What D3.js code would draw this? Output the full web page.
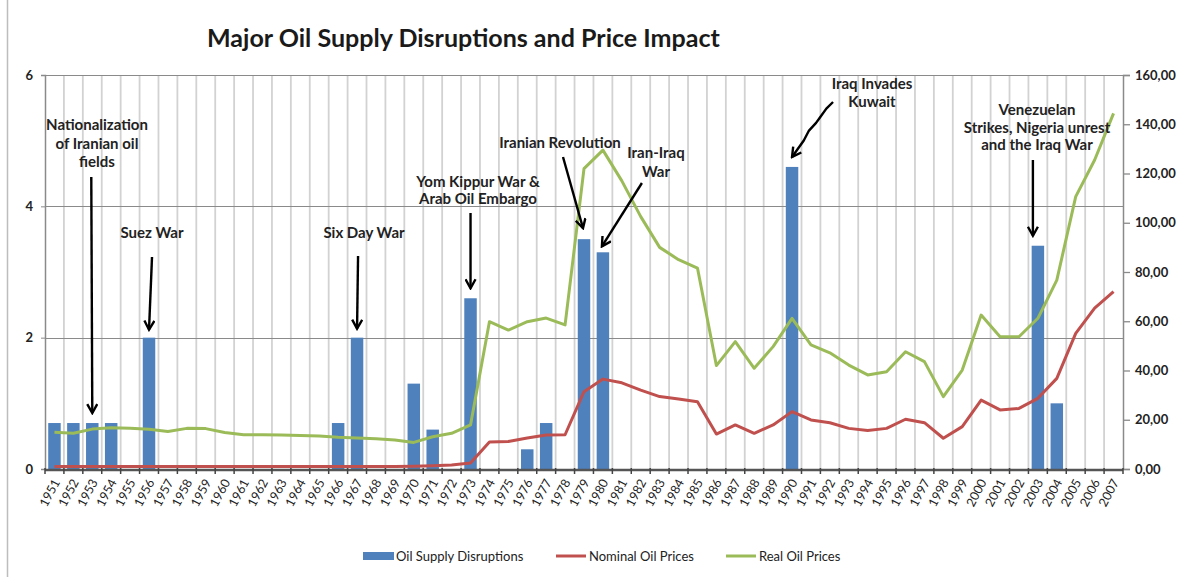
<!DOCTYPE html>
<html>
<head>
<meta charset="utf-8">
<script src="https://cdn.jsdelivr.net/npm/d3@7"></script>
<style>
  html, body { margin: 0; padding: 0; background: #fff; }
  svg { display: block; font-family: Lato, "Open Sans", sans-serif; }
</style>
</head>
<body>
<svg id="chart" width="1192" height="577"></svg>
<script>
// ---------------- data ----------------
const years = ["1951","1952","1953","1954","1955","1956","1957","1958","1959","1960",
  "1961","1962","1963","1964","1965","1966","1967","1968","1969","1970",
  "1971","1972","1973","1974","1975","1976","1977","1978","1979","1980",
  "1981","1982","1983","1984","1985","1986","1987","1988","1989","1990",
  "1991","1992","1993","1994","1995","1996","1997","1998","1999","2000",
  "2001","2002","2003","2004","2005","2006","2007"];

const disruptions = [0.7,0.7,0.7,0.7,0,2.0,0,0,0,0,
  0,0,0,0,0,0.7,2.0,0,0,1.3,
  0.6,0,2.6,0,0,0.3,0.7,0,3.5,3.3,
  0,0,0,0,0,0,0,0,0,4.6,
  0,0,0,0,0,0,0,0,0,0,
  0,0,3.4,1.0,0,0,0];

const nominalPrices = [1.0,1.0,1.0,1.0,1.0,1.0,1.0,1.0,1.0,1.0,
  1.0,1.0,1.0,1.0,1.0,1.0,1.0,1.0,1.0,1.1,
  1.3,1.6,2.4,11.0,11.2,12.6,13.8,13.9,31.4,36.5,
  35.0,32.0,29.4,28.4,27.3,14.2,17.9,14.5,17.9,23.3,
  19.9,18.8,16.5,15.6,16.5,20.2,18.8,12.5,17.2,28.0,
  24.0,24.6,28.7,36.8,55.1,65.3,72.0];

const realPrices = [14.9,14.5,16.2,16.8,16.5,16.1,15.2,16.5,16.4,14.8,
  13.9,13.9,13.8,13.6,13.4,12.9,12.6,12.3,11.8,10.8,
  13.1,14.5,17.9,59.8,56.4,59.8,61.3,58.5,122.0,129.5,
  117.0,102.5,90.0,85.0,81.6,42.0,51.7,40.9,49.7,61.2,
  50.4,47.2,42.2,38.2,39.5,47.6,43.6,29.4,40.2,62.5,
  53.7,53.7,61.2,76.7,110.6,125.5,144.4];

const leftTicks = [0, 2, 4, 6];
const rightTicks = [0, 20, 40, 60, 80, 100, 120, 140, 160];

const seriesNames = ["Oil Supply Disruptions", "Nominal Oil Prices", "Real Oil Prices"];

const events = [
  { year: "1953", lines: ["Nationalization", "of Iranian oil", "fields"] },
  { year: "1956", lines: ["Suez War"] },
  { year: "1967", lines: ["Six Day War"] },
  { year: "1973", lines: ["Yom Kippur War &", "Arab Oil Embargo"] },
  { year: "1979", lines: ["Iranian Revolution"] },
  { year: "1980", lines: ["Iran-Iraq", "War"] },
  { year: "1990", lines: ["Iraq Invades", "Kuwait"] },
  { year: "2003", lines: ["Venezuelan", "Strikes, Nigeria unrest", "and the Iraq War"] }
];

// ---------------- layout ----------------
const colors = { bar: "#4F81BD", nominal: "#C0504D", real: "#9BBB59" };
const plot = { left: 45, right: 1123, top: 75, bottom: 469 };

const svg = d3.select("#chart");

const x = d3.scaleBand().domain(years).range([plot.left, plot.right])
  .paddingInner(0.34).paddingOuter(0.17);
const yL = d3.scaleLinear().domain([0, 6]).range([plot.bottom, plot.top]);
const yR = d3.scaleLinear().domain([0, 160]).range([plot.bottom, plot.top]);
const cx = d => x(d) + x.bandwidth() / 2;
const gap = (x.step() - x.bandwidth()) / 2;

// frame line on left
svg.append("line").attr("x1", 7.5).attr("x2", 7.5).attr("y1", 0).attr("y2", 577)
  .attr("stroke", "#bdbdbd").attr("stroke-width", 1.5);

// title
svg.append("text").attr("x", 207).attr("y", 47)
  .attr("font-size", 22).attr("font-weight", "bold").attr("fill", "#1a1a1a")
  .text("Major Oil Supply Disruptions and Price Impact")
  .each(function () {
    const w = this.getComputedTextLength();
    const target = 513;
    d3.select(this).attr("font-size", 22 * target / w);
  });

// vertical gridlines at category boundaries
const bounds = years.map(d => x(d) - gap).slice(1);
svg.append("g").selectAll("line").data(bounds).join("line")
  .attr("x1", d => d).attr("x2", d => d)
  .attr("y1", plot.top).attr("y2", plot.bottom)
  .attr("stroke", "#d2d2d2").attr("stroke-width", 1.8);

// horizontal gridlines
svg.append("g").selectAll("line").data(leftTicks.filter(d => d > 0)).join("line")
  .attr("x1", plot.left).attr("x2", plot.right)
  .attr("y1", d => Math.round(yL(d)) + 0.5).attr("y2", d => Math.round(yL(d)) + 0.5)
  .attr("stroke", "#8a8a8a").attr("stroke-width", 1.2);

// left axis
const gL = svg.append("g").attr("transform", `translate(${plot.left},0)`)
  .call(d3.axisLeft(yL).tickValues(leftTicks).tickSize(4).tickPadding(8).tickFormat(d3.format("d")));
gL.select(".domain").attr("stroke", "#8a8a8a").attr("stroke-width", 1.5);
gL.selectAll(".tick line").attr("stroke", "#8a8a8a");
gL.selectAll("text").attr("font-size", 13).attr("font-weight", "bold").attr("fill", "#222")
  .attr("font-family", "Lato, sans-serif");

// right axis
const gR = svg.append("g").attr("transform", `translate(${plot.right},0)`)
  .call(d3.axisRight(yR).tickValues(rightTicks).tickSize(7).tickPadding(5)
    .tickFormat(d => d3.format(".2f")(d).replace(".", ",")));
gR.select(".domain").attr("stroke", "#8a8a8a").attr("stroke-width", 1.5);
gR.selectAll(".tick line").attr("stroke", "#8a8a8a").attr("stroke-width", 1.3);
gR.selectAll("text").attr("font-size", 13).attr("font-weight", "bold").attr("fill", "#222")
  .attr("font-family", "Lato, sans-serif");

// bars
svg.append("g").selectAll("rect").data(years.map((y, i) => ({ y, v: disruptions[i] })).filter(d => d.v > 0))
  .join("rect")
  .attr("x", d => x(d.y)).attr("width", x.bandwidth())
  .attr("y", d => yL(d.v)).attr("height", d => yL(0) - yL(d.v))
  .attr("fill", colors.bar);

// lines
const lineGen = vals => d3.line().x((d, i) => cx(years[i])).y(d => yR(d))(vals);
svg.append("path").attr("d", lineGen(nominalPrices)).attr("fill", "none")
  .attr("stroke", colors.nominal).attr("stroke-width", 3).attr("stroke-linejoin", "round");
svg.append("path").attr("d", lineGen(realPrices)).attr("fill", "none")
  .attr("stroke", colors.real).attr("stroke-width", 3).attr("stroke-linejoin", "round");

// x axis
const gX = svg.append("g").attr("transform", `translate(0,${plot.bottom})`)
  .call(d3.axisBottom(x).tickSize(0).tickPadding(6));
gX.select(".domain").remove();
svg.append("line").attr("x1", plot.left).attr("x2", plot.right)
  .attr("y1", plot.bottom + 1).attr("y2", plot.bottom + 1)
  .attr("stroke", "#555").attr("stroke-width", 2.5);
svg.append("g").selectAll("line").data(years.map(d => x(d) - gap).concat([plot.right])).join("line")
  .attr("x1", d => d).attr("x2", d => d)
  .attr("y1", plot.bottom - 1).attr("y2", plot.bottom + 5)
  .attr("stroke", "#444").attr("stroke-width", 1.5);
gX.selectAll("text")
  .attr("font-size", 12.5).attr("fill", "#222").attr("font-family", "Lato, sans-serif")
  .attr("text-anchor", "end")
  .attr("transform", "translate(2,11) rotate(-62)")
  .attr("dy", "0.35em").attr("y", 0).attr("x", 0);

// ---------------- annotations ----------------
const annLayout = {
  "1953": { lx: 97,  ly: 130, lh: 18.5, ax0: -1, ay0: 177, tipGap: 10 },
  "1956": { lx: 152, ly: 238, lh: 18,   ax0: 3,  ay0: 257, tipGap: 8 },
  "1967": { lx: 364, ly: 238, lh: 18,   ax0: 1,  ay0: 256, tipGap: 9 },
  "1973": { lx: 478, ly: 187, lh: 17,   ax0: 0,  ay0: 213, tipGap: 10 },
  "1979": { lx: 560, ly: 148, lh: 18,   ax0: -21, ay0: 157, tipGap: 11, dx: -1 },
  "1980": { lx: 656, ly: 158, lh: 19,   ax0: 39, ay0: 183, tipGap: 6, dx: -1 },
  "1990": { lx: 872, ly: 89,  lh: 18,   ax0: 41, ay0: 102, tipGap: 10, wavy: true },
  "2003": { lx: 1037, ly: 115, lh: 17.5, ax0: -5, ay0: 160, tipGap: 10, dx: -5 }
};

const defs = svg.append("defs");
defs.append("marker").attr("id", "arrowHead")
  .attr("viewBox", "0 0 12 12").attr("refX", 10).attr("refY", 6)
  .attr("markerWidth", 12).attr("markerHeight", 12).attr("markerUnits", "userSpaceOnUse")
  .attr("orient", "auto")
  .append("path").attr("d", "M1,1 L10,6 L1,11").attr("fill", "none")
  .attr("stroke", "#000").attr("stroke-width", 2.4).attr("stroke-linejoin", "miter");

const annG = svg.append("g");
events.forEach(ev => {
  const L = annLayout[ev.year];
  const i = years.indexOf(ev.year);
  const tx = cx(ev.year) + (L.dx || 0);
  const ty = yL(disruptions[i]) - L.tipGap;
  const sx = cx(ev.year) + L.ax0;
  const sy = L.ay0;
  let d;
  if (L.wavy) {
    // hand-drawn, slightly jagged diagonal
    const pts = [[0, 0], [0.2, 0.12], [0.3, 0.3], [0.45, 0.38], [0.55, 0.52], [0.75, 0.7], [1, 1]]
      .map(([fx, fy], k) => [sx + (tx - sx) * fx + (k % 2 ? 1.5 : -1.5) * (k > 0 && k < 6 ? 1 : 0), sy + (ty - sy) * fy]);
    d = d3.line().curve(d3.curveLinear)(pts);
  } else {
    d = `M${sx},${sy} L${tx},${ty}`;
  }
  annG.append("path").attr("d", d).attr("fill", "none")
    .attr("stroke", "#000").attr("stroke-width", 2.4).attr("stroke-linejoin", "round")
    .attr("marker-end", "url(#arrowHead)");
  const t = annG.append("text").attr("text-anchor", "middle")
    .attr("font-size", 15).attr("font-weight", "bold").attr("fill", "#222");
  ev.lines.forEach((ln, k) => {
    t.append("tspan").attr("x", L.lx).attr("y", L.ly + k * L.lh).text(ln);
  });
});

// ---------------- legend ----------------
const lg = svg.append("g").attr("font-size", 13).attr("fill", "#222");
const legendItems = [
  { name: seriesNames[0], type: "bar", color: colors.bar, x0: 363 },
  { name: seriesNames[1], type: "line", color: colors.nominal, x0: 556 },
  { name: seriesNames[2], type: "line", color: colors.real, x0: 726 }
];
legendItems.forEach(it => {
  if (it.type === "bar") {
    lg.append("rect").attr("x", it.x0).attr("y", 552).attr("width", 31).attr("height", 8).attr("fill", it.color);
  } else {
    lg.append("line").attr("x1", it.x0).attr("x2", it.x0 + 30).attr("y1", 556).attr("y2", 556)
      .attr("stroke", it.color).attr("stroke-width", 3);
  }
  lg.append("text").attr("x", it.x0 + 33).attr("y", 560.5).attr("fill", "#222").text(it.name);
});
</script>
</body>
</html>
